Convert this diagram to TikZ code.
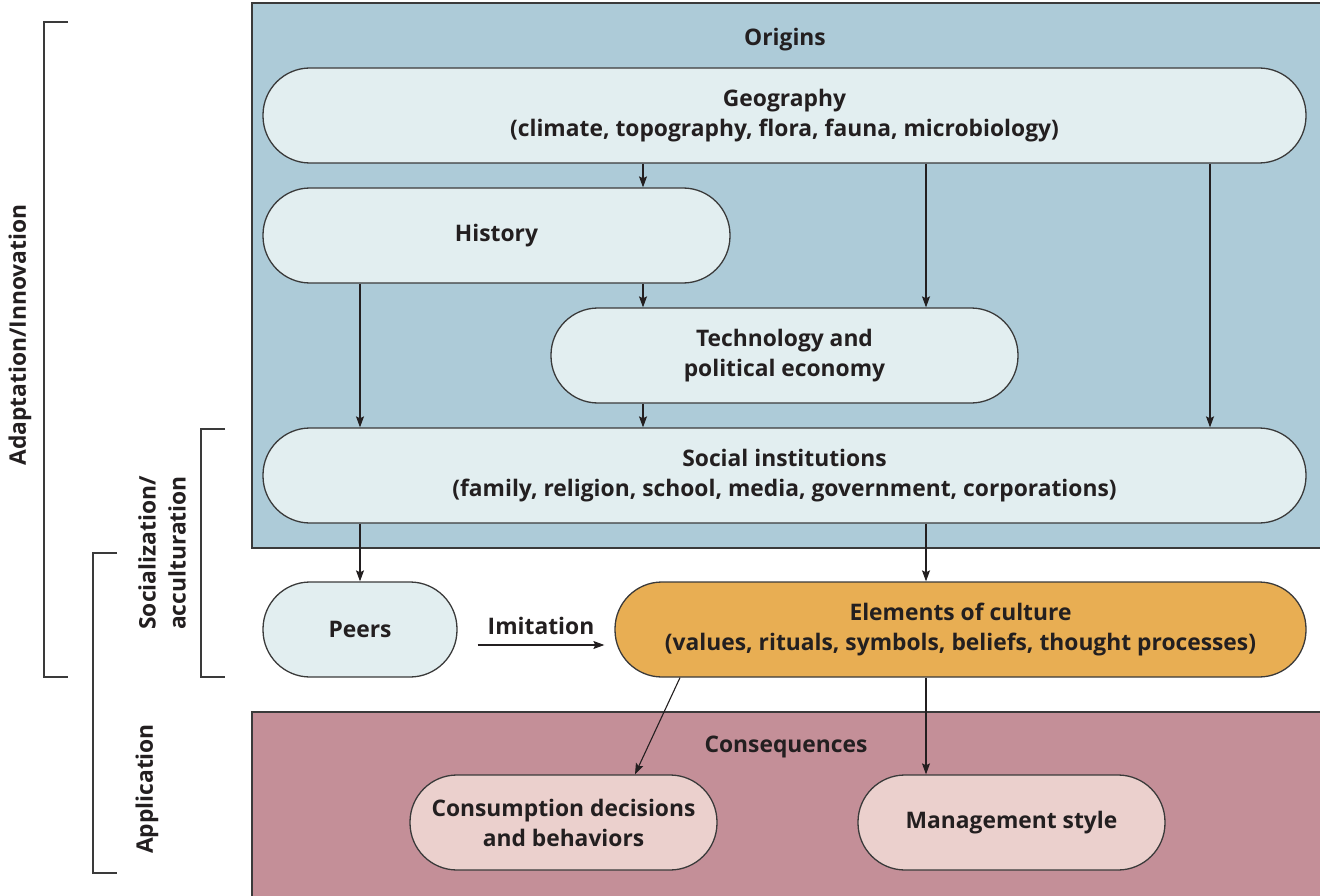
\documentclass[tikz,border=0pt]{standalone}
\usepackage{fontspec}
\setmainfont{Open Sans}
\usetikzlibrary{arrows.meta}
\definecolor{bluebg}{HTML}{ADCBD8}
\definecolor{nodebg}{HTML}{E2EEF0}
\definecolor{orangebg}{HTML}{E8AE53}
\definecolor{pinkbg}{HTML}{C48F98}
\definecolor{pinknode}{HTML}{EBD0CD}
\definecolor{ink}{HTML}{231F20}
\definecolor{edge}{HTML}{3A3A3A}
\tikzset{
  pill/.style={draw=edge, line width=1.3pt, fill=nodebg, rounded corners=47pt,
    minimum height=95pt, inner sep=0pt, align=center, text=ink,
    font=\fontsize{22.8}{30}\selectfont\bfseries},
  lbl/.style={text=ink, font=\fontsize{22.8}{30}\selectfont\bfseries, align=center, inner sep=0pt},
  arr/.style={draw=ink, line width=1.1pt, -{Stealth[length=11pt,width=8pt,inset=2pt]}},
  brk/.style={draw=edge, line width=1.3pt},
  panel/.style={draw=edge, line width=1.3pt}
}
\begin{document}
\begin{tikzpicture}[x=1pt,y=-1pt]
\useasboundingbox (0,0) rectangle (1320,896);
% panels
\path[panel, fill=bluebg] (252,3) rectangle (1325,548);
\path[panel, fill=pinkbg] (252,712) rectangle (1325,900);
\node[lbl] (origins) at (785,40) {Origins};
\node[lbl] (conseq) at (786,747) {Consequences};
% nodes
\node[pill, minimum width=1043pt] (geo) at (784.5,115.5) {Geography\\(climate, topography, flora, fauna, microbiology)};
\node[pill, minimum width=467pt] (hist) at (496.5,235.5) {\raisebox{-2pt}{History}};
\node[pill, minimum width=467pt] (tech) at (784.5,355.5) {Technology and\\political economy};
\node[pill, minimum width=1043pt] (soc) at (784.5,475.5) {Social institutions\\(family, religion, school, media, government, corporations)};
\node[pill, minimum width=194pt] (peers) at (360,629.5) {Peers};
\node[pill, minimum width=691pt, fill=orangebg] (elem) at (960.5,629.5) {Elements of culture\\(values, rituals, symbols, beliefs, thought processes)};
\node[pill, minimum width=307pt, fill=pinknode] (cons) at (563.5,822.5) {Consumption decisions\\and behaviors};
\node[pill, minimum width=307pt, fill=pinknode] (mgmt) at (1011.5,822.5) {\raisebox{-2pt}{Management style}};
% x guides
\coordinate (xa) at (360,0);
\coordinate (xb) at (643,0);
\coordinate (xc) at (926,0);
\coordinate (xd) at (1210,0);
\coordinate (xe) at (680,0);
\coordinate (xf) at (635,0);
% arrows
\draw[arr] (geo.south -| xb) -- (hist.north -| xb);
\draw[arr] (geo.south -| xc) -- (tech.north -| xc);
\draw[arr] (geo.south -| xd) -- (soc.north -| xd);
\draw[arr] (hist.south -| xb) -- (tech.north -| xb);
\draw[arr] (hist.south -| xa) -- (soc.north -| xa);
\draw[arr] (tech.south -| xb) -- (soc.north -| xb);
\draw[arr] (soc.south -| xa) -- (peers.north);
\draw[arr] (soc.south -| xc) -- (elem.north -| xc);
\draw[arr] ([xshift=20pt,yshift=-15.5pt]peers.east) -- node[lbl, above=10pt] {Imitation} ([xshift=-10pt,yshift=-15.5pt]elem.west);
\draw[arr] (elem.south -| xe) -- (cons.north -| xf);
\draw[arr] (elem.south -| xc) -- (mgmt.north -| xc);
% brackets
\draw[brk] (68,22) -- (44,22) -- (44,677) -- (68,677);
\draw[brk] (225,429) -- (201,429) -- (201,677) -- (225,677);
\draw[brk] (117,553) -- (93,553) -- (93,873) -- (117,873);
\node[lbl, rotate=90] (adapt) at (20,335) {Adaptation/Innovation};
\node[lbl, rotate=90] (social) at (162,553) {Socialization/\\acculturation};
\node[lbl, rotate=90] (appl) at (147,789) {Application};
\end{tikzpicture}
\end{document}
